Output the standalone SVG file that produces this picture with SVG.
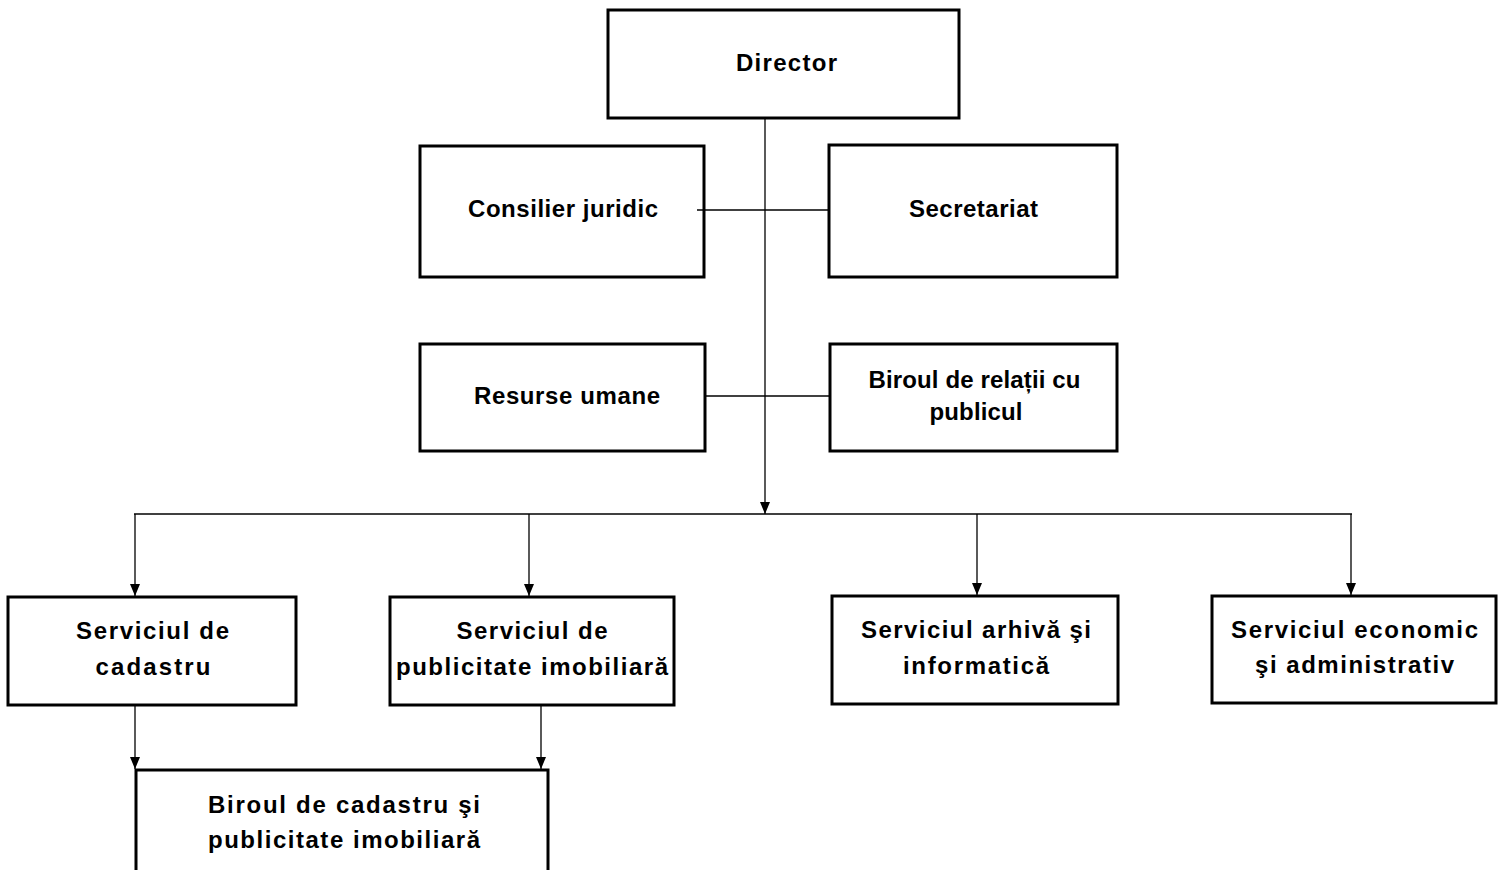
<svg xmlns="http://www.w3.org/2000/svg" width="1504" height="870" viewBox="0 0 1504 870">
<style>
  .box { fill: #ffffff; stroke: #000000; stroke-width: 3; }
  .line { fill: none; stroke: #000000; stroke-width: 1.3; }
  .lbl { font-family: "Liberation Sans", Arial, sans-serif; font-weight: bold; font-size: 24px; fill: #000000; text-anchor: middle; }
</style>
<defs>
  <marker id="arr" viewBox="0 0 12 10" refX="12" refY="5" markerWidth="12" markerHeight="10" markerUnits="userSpaceOnUse" orient="auto">
    <path d="M0,0 L12,5 L0,10 Z" fill="#000000"/>
  </marker>
</defs>
<rect width="1504" height="870" fill="#ffffff"/>

<g id="director">
  <rect class="box" x="608" y="10" width="351" height="108"/>
  <text class="lbl" x="786.5" y="71" textLength="101" lengthAdjust="spacing">Director</text>
</g>
<g id="consilier-juridic">
  <rect class="box" x="420" y="146" width="284" height="131"/>
  <text class="lbl" x="563" y="217" textLength="190" lengthAdjust="spacing">Consilier juridic</text>
</g>
<g id="secretariat">
  <rect class="box" x="829" y="145" width="288" height="132"/>
  <text class="lbl" x="973.5" y="217" textLength="129" lengthAdjust="spacing">Secretariat</text>
</g>
<g id="resurse-umane">
  <rect class="box" x="420" y="344" width="285" height="107"/>
  <text class="lbl" x="567" y="404" textLength="186" lengthAdjust="spacing">Resurse umane</text>
</g>
<g id="biroul-relatii">
  <rect class="box" x="830" y="344" width="287" height="107"/>
  <text class="lbl" x="974.5" y="388" textLength="212" lengthAdjust="spacing">Biroul de relații cu</text>
  <text class="lbl" x="976" y="420" textLength="93" lengthAdjust="spacing">publicul</text>
</g>
<g id="serviciul-cadastru">
  <rect class="box" x="8" y="597" width="288" height="108"/>
  <text class="lbl" x="152.5" y="639" textLength="153" lengthAdjust="spacing">Serviciul de</text>
  <text class="lbl" x="153" y="675" textLength="115" lengthAdjust="spacing">cadastru</text>
</g>
<g id="serviciul-publicitate">
  <rect class="box" x="390" y="597" width="284" height="108"/>
  <text class="lbl" x="532" y="639" textLength="151" lengthAdjust="spacing">Serviciul de</text>
  <text class="lbl" x="532" y="675" textLength="272" lengthAdjust="spacing">publicitate imobiliară</text>
</g>
<g id="serviciul-arhiva">
  <rect class="box" x="832" y="596" width="286" height="108"/>
  <text class="lbl" x="976" y="638" textLength="230" lengthAdjust="spacing">Serviciul arhivă şi</text>
  <text class="lbl" x="976" y="674" textLength="146" lengthAdjust="spacing">informatică</text>
</g>
<g id="serviciul-economic">
  <rect class="box" x="1212" y="596" width="284" height="107"/>
  <text class="lbl" x="1354.5" y="638" textLength="247" lengthAdjust="spacing">Serviciul economic</text>
  <text class="lbl" x="1354.5" y="673" textLength="199" lengthAdjust="spacing">şi administrativ</text>
</g>
<g id="biroul-cadastru">
  <rect class="box" x="136" y="770" width="412" height="120"/>
  <text class="lbl" x="344" y="813" textLength="272" lengthAdjust="spacing">Biroul de cadastru şi</text>
  <text class="lbl" x="344" y="848" textLength="272" lengthAdjust="spacing">publicitate imobiliară</text>
</g>

<g id="connectors">
  <line class="line" x1="765" y1="119" x2="765" y2="514" marker-end="url(#arr)"/>
  <line class="line" x1="697" y1="210" x2="828" y2="210"/>
  <line class="line" x1="706" y1="396" x2="829" y2="396"/>
  <line class="line" x1="134" y1="514" x2="1352" y2="514"/>
  <line class="line" x1="135" y1="514" x2="135" y2="596" marker-end="url(#arr)"/>
  <line class="line" x1="529" y1="514" x2="529" y2="596" marker-end="url(#arr)"/>
  <line class="line" x1="977" y1="514" x2="977" y2="595" marker-end="url(#arr)"/>
  <line class="line" x1="1351" y1="514" x2="1351" y2="595" marker-end="url(#arr)"/>
  <line class="line" x1="135" y1="706" x2="135" y2="769" marker-end="url(#arr)"/>
  <line class="line" x1="541" y1="706" x2="541" y2="769" marker-end="url(#arr)"/>
</g>
</svg>
